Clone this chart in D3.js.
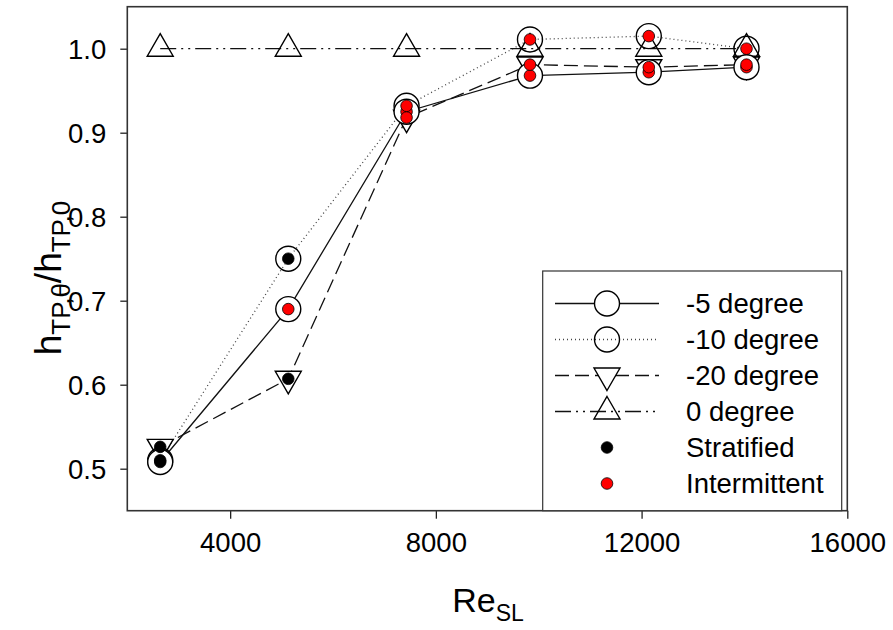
<!DOCTYPE html>
<html>
<head>
<meta charset="utf-8">
<script src="https://cdn.jsdelivr.net/npm/d3@7"></script>
<style>
  body { margin: 0; background: #fff; }
  text { font-family: "Liberation Sans", Arial, sans-serif; fill: #000; }
</style>
</head>
<body>
<svg id="chart" width="893" height="630"></svg>
<script>
// data
const reSL = [2640, 5130, 7430, 9830, 12140, 14040];
const minus5 = [0.508, 0.690, 0.925, 0.968, 0.972, 0.978];
const minus10 = [0.510, 0.750, 0.932, 1.011, 1.015, 1.000];
const minus20 = [0.526, 0.607, 0.918, 0.981, 0.978, 0.981];
const zero = [1.0, 1.0, 1.0, 1.0, 1.0, 1.0];
// flow regime at each point: S = stratified, I = intermittent
const regime5 = ['S', 'I', 'I', 'I', 'I', 'I'];
const regime10 = ['S', 'S', 'I', 'I', 'I', 'I'];
const regime20 = ['S', 'S', 'I', 'I', 'I', 'I'];
const xTicks = [4000, 8000, 12000, 16000];
const yTicks = [0.5, 0.6, 0.7, 0.8, 0.9, 1.0];
const legendNames = ['-5 degree', '-10 degree', '-20 degree', '0 degree', 'Stratified', 'Intermittent'];

const svg = d3.select('#chart');

const plotL = 127.3, plotR = 847.3, plotT = 6.7, plotB = 510.7;

const x = d3.scaleLinear().domain([2000, 16000]).range([plotL, plotR]);
const y = d3.scaleLinear().domain([0.45, 1.05]).range([plotB, plotT]);

// marker shapes
const circlePath = 'M12.5,0A12.5,12.5 0 1,1 -12.5,0A12.5,12.5 0 1,1 12.5,0Z';
const triUp = 'M0,-15L13,7.5L-13,7.5Z';
const triDown = 'M0,15L13,-7.5L-13,-7.5Z';

const series = [
  { name: '-5', values: minus5, regime: regime5, shape: circlePath, dash: null, fill: '#fff' },
  { name: '-10', values: minus10, regime: regime10, shape: circlePath, dash: '1,3', fill: 'none', color: '#444' },
  { name: '-20', values: minus20, regime: regime20, shape: triDown, dash: '14,6', fill: '#fff' },
  { name: '0', values: zero, regime: null, shape: triUp, dash: '16,5,2,5,2,5', fill: 'none' }
];

const line = d3.line().x(d => x(d[0])).y(d => y(d[1]));

// axes
const xAxis = d3.axisBottom(x).tickValues(xTicks).tickSize(8).tickSizeOuter(0).tickPadding(14)
  .tickFormat(d3.format('d'));
const yAxis = d3.axisLeft(y).tickValues(yTicks).tickSize(7).tickSizeOuter(0).tickPadding(14)
  .tickFormat(d3.format('.1f'));

const gx = svg.append('g').attr('transform', `translate(0,${plotB})`).call(xAxis);
const gy = svg.append('g').attr('transform', `translate(${plotL},0)`).call(yAxis);
[gx, gy].forEach(g => {
  g.select('.domain').remove();
  g.selectAll('line').attr('stroke', '#222').attr('stroke-width', 1.3);
  g.selectAll('text').style('font-size', '27.5px').attr('fill', '#000');
});
gy.selectAll('text').attr('dy', '0.36em');

// lines
series.forEach(s => {
  svg.append('path')
    .datum(reSL.map((r, i) => [r, s.values[i]]))
    .attr('d', line)
    .attr('fill', 'none')
    .attr('stroke', s.color || '#111')
    .attr('stroke-width', 1.3)
    .attr('stroke-dasharray', s.dash);
});

// markers
[series[2], series[3], series[1], series[0]].forEach(s => {
  svg.append('g').selectAll('path')
    .data(reSL.map((r, i) => [r, s.values[i]]))
    .join('path')
    .attr('d', s.shape)
    .attr('transform', d => `translate(${x(d[0])},${y(d[1])})`)
    .attr('fill', s.fill)
    .attr('stroke', '#000')
    .attr('stroke-width', 1.4);
});

// regime dots
series.filter(s => s.regime).forEach(s => {
  svg.append('g').selectAll('circle')
    .data(reSL.map((r, i) => [r, s.values[i], s.regime[i]]))
    .join('circle')
    .attr('cx', d => x(d[0]))
    .attr('cy', d => y(d[1]))
    .attr('r', 5.8)
    .attr('fill', d => d[2] === 'S' ? '#000' : '#f00')
    .attr('stroke', '#000')
    .attr('stroke-width', 0.8);
});

// frame
svg.append('rect')
  .attr('x', plotL).attr('y', plotT)
  .attr('width', plotR - plotL).attr('height', plotB - plotT)
  .attr('fill', 'none').attr('stroke', '#333').attr('stroke-width', 1.6);

// legend
const lg = svg.append('g');
lg.append('rect')
  .attr('x', 542.7).attr('y', 271)
  .attr('width', 299).attr('height', plotB - 271)
  .attr('fill', '#fff').attr('stroke', '#333').attr('stroke-width', 1.2);

legendNames.forEach((name, i) => {
  const ly = 303.5 + i * 36;
  if (i < 4) {
    const s = series[i];
    lg.append('line')
      .attr('x1', 555).attr('x2', 659).attr('y1', ly).attr('y2', ly)
      .attr('stroke', s.color || '#111').attr('stroke-width', 1.3)
      .attr('stroke-dasharray', s.dash);
    lg.append('path')
      .attr('d', s.shape)
      .attr('transform', `translate(607,${ly})`)
      .attr('fill', s.fill).attr('stroke', '#000').attr('stroke-width', 1.4);
  } else {
    lg.append('circle')
      .attr('cx', 607).attr('cy', ly).attr('r', 5.8)
      .attr('fill', i === 4 ? '#000' : '#f00')
      .attr('stroke', '#000').attr('stroke-width', 0.8);
  }
  lg.append('text')
    .attr('x', 686).attr('y', ly + 9.5)
    .style('font-size', '27.5px')
    .text(name);
});

// axis titles
const xt = svg.append('text')
  .attr('x', 488).attr('y', 612)
  .attr('text-anchor', 'middle')
  .style('font-size', '34px');
xt.append('tspan').text('Re');
xt.append('tspan').attr('dy', 9).style('font-size', '23px').text('SL');

const yt = svg.append('text')
  .attr('transform', 'translate(61,278) rotate(-90)')
  .attr('text-anchor', 'middle')
  .style('font-size', '37px');
yt.append('tspan').text('h');
yt.append('tspan').attr('dy', 9).style('font-size', '26px').text('TP,θ');
yt.append('tspan').attr('dy', -9).text('/h');
yt.append('tspan').attr('dy', 9).style('font-size', '26px').text('TP,0');
</script>
</body>
</html>
